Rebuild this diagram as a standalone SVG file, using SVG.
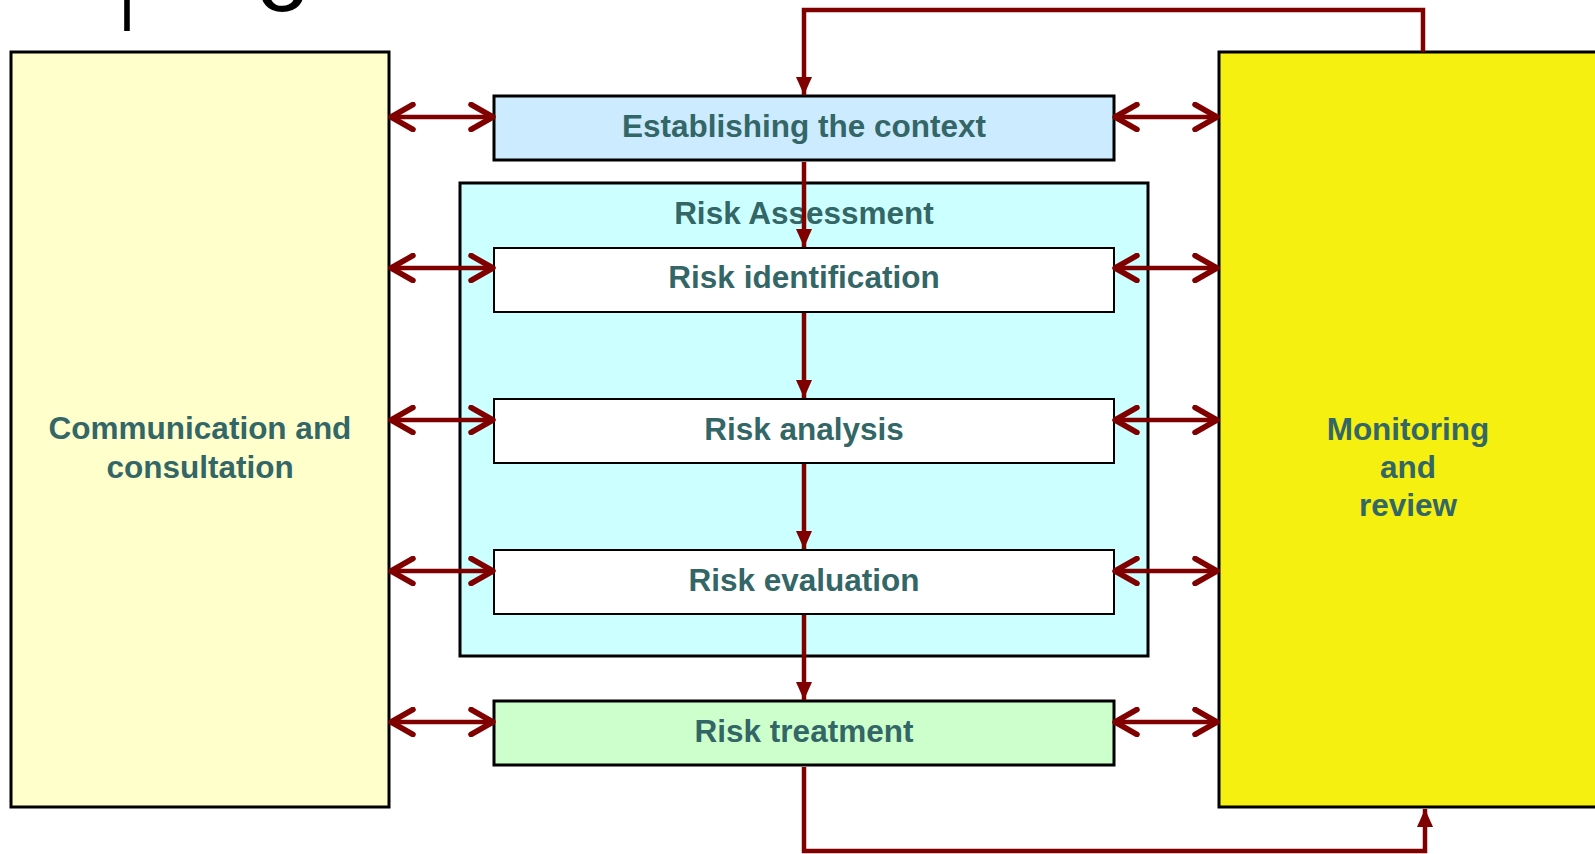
<svg xmlns="http://www.w3.org/2000/svg" width="1595" height="854" viewBox="0 0 1595 854">
  <style>
    .box { stroke: #000; stroke-width: 3; }
    .inner { fill: #fff; stroke: #000; stroke-width: 2; }
    .lbl { font-family: "Liberation Sans", Arial, sans-serif; font-weight: bold; font-size: 31.5px; fill: #336666; text-anchor: middle; }
    .flowv { fill: none; stroke: #800000; stroke-width: 4.5; marker-end: url(#tri); }
    .dbl { fill: none; stroke: #800000; stroke-width: 4.5; marker-start: url(#chev); marker-end: url(#chev); }
  </style>
  <defs>
    <marker id="tri" viewBox="0 0 18 16" refX="18" refY="8" markerWidth="18" markerHeight="16" markerUnits="userSpaceOnUse" orient="auto">
      <path d="M0,0 L18,8 L0,16 Z" fill="#800000"/>
    </marker>
    <marker id="chev" viewBox="0 0 30 30" refX="26" refY="15" markerWidth="30" markerHeight="30" markerUnits="userSpaceOnUse" orient="auto-start-reverse">
      <path d="M4,2.5 L26,15 L4,27.5" fill="none" stroke="#800000" stroke-width="5.5" stroke-linecap="round" stroke-linejoin="round"/>
    </marker>
  </defs>
  <rect x="0" y="0" width="1595" height="854" fill="#fff"/>

  <g id="title">
    <text x="100" y="-20" font-family="Inter, 'Liberation Sans', sans-serif" font-weight="100" font-size="250" fill="#000">p</text>
    <text x="256" y="11" font-family="'Liberation Sans', Arial, sans-serif" font-size="95" fill="#000">o</text>
  </g>

  <g id="communication">
    <rect class="box" x="11" y="52" width="378" height="755" fill="#FFFFCC"/>
    <text class="lbl" x="200" y="439">Communication and</text>
    <text class="lbl" x="200" y="478">consultation</text>
  </g>

  <g id="monitoring">
    <rect class="box" x="1219" y="52" width="420" height="755" fill="#F5F00F"/>
    <text class="lbl" x="1408" y="440">Monitoring</text>
    <text class="lbl" x="1408" y="478">and</text>
    <text class="lbl" x="1408" y="516">review</text>
  </g>

  <g id="context">
    <rect class="box" x="494" y="96" width="620" height="64" fill="#CCEBFF"/>
    <text class="lbl" x="804" y="137">Establishing the context</text>
  </g>

  <g id="assessment">
    <rect class="box" x="460" y="183" width="688" height="473" fill="#CCFFFF"/>
    <text class="lbl" x="804" y="224">Risk Assessment</text>
  </g>

  <g id="identification">
    <rect class="inner" x="494" y="248" width="620" height="64"/>
    <text class="lbl" x="804" y="288">Risk identification</text>
  </g>

  <g id="analysis">
    <rect class="inner" x="494" y="399" width="620" height="64"/>
    <text class="lbl" x="804" y="440">Risk analysis</text>
  </g>

  <g id="evaluation">
    <rect class="inner" x="494" y="550" width="620" height="64"/>
    <text class="lbl" x="804" y="591">Risk evaluation</text>
  </g>

  <g id="treatment">
    <rect class="box" x="494" y="701" width="620" height="64" fill="#CCFFCC"/>
    <text class="lbl" x="804" y="742">Risk treatment</text>
  </g>

  <g id="connectors">
    <path class="flowv" d="M1423,52 V10 H804 V95"/>
    <path class="flowv" d="M804,162 V247"/>
    <path class="flowv" d="M804,313 V398"/>
    <path class="flowv" d="M804,464 V549"/>
    <path class="flowv" d="M804,615 V700"/>
    <path class="flowv" d="M804,767 V851 H1425 V809"/>

    <path class="dbl" d="M391,117 H493"/>
    <path class="dbl" d="M391,268 H493"/>
    <path class="dbl" d="M391,420 H493"/>
    <path class="dbl" d="M391,571 H493"/>
    <path class="dbl" d="M391,722 H493"/>

    <path class="dbl" d="M1115,117 H1217"/>
    <path class="dbl" d="M1115,268 H1217"/>
    <path class="dbl" d="M1115,420 H1217"/>
    <path class="dbl" d="M1115,571 H1217"/>
    <path class="dbl" d="M1115,722 H1217"/>
  </g>
</svg>
